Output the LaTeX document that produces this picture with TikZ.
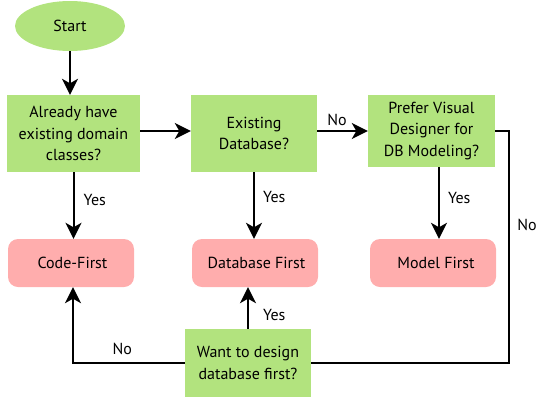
\documentclass[tikz,border=0pt]{standalone}
\usepackage{fontspec}
\setmainfont{PT Sans}
\usetikzlibrary{arrows.meta,shapes.geometric}
\definecolor{askgreen}{RGB}{178,227,126}
\definecolor{endpink}{RGB}{255,173,173}
\begin{document}
\begin{tikzpicture}[x=1pt,y=-1pt,font=\fontsize{16}{21.5}\selectfont,
  ask/.style={fill=askgreen,align=center,inner sep=0pt},
  result/.style={fill=endpink,rounded corners=10pt,minimum width=126pt,minimum height=48pt,inner sep=0pt},
  flow/.style={line width=2pt,-{Stealth[length=16pt,width=16pt,inset=4.5pt]}},
  route/.style={line width=1.8pt},
  lbl/.style={inner sep=0pt}]
\useasboundingbox (0,0) rectangle (550,400);
\node[ellipse,fill=askgreen,minimum width=110pt,minimum height=50pt,inner sep=0pt](start) at (70,26){Start};
\node[ask,minimum width=133pt,minimum height=77pt](havecls) at (73.5,133.5){Already have\\existing domain\\classes?};
\node[ask,minimum width=126pt,minimum height=77pt](existdb) at (254,133.5){Existing\\Database?};
\node[ask,minimum width=127pt,minimum height=72pt](visual) at (431.5,131){Prefer Visual\\Designer for\\DB Modeling?};
\node[ask,minimum width=126pt,minimum height=68pt](wantdb) at (248,363){Want to design\\database first?};
%
\node[result](codefirst) at (71,263){\hspace*{3pt}Code-First};
\node[result](dbfirst) at (255,263){\hspace*{3pt}Database First};
\node[result](modelfirst) at (433,263){\hspace*{6pt}Model First};
\coordinate (turn) at (509,225);
%
\draw[flow](start.south)--(start.south |- havecls.north);
\draw[flow]([yshift=2.5pt]havecls.east)--([yshift=2.5pt]havecls.east -| existdb.west);
\draw[flow](existdb.east |- visual.west)--(visual.west) node[lbl,pos=0.39,yshift=11pt]{No};
\draw[flow](havecls.south)--(havecls.south |- codefirst.north) node[lbl,pos=0.42,anchor=west,xshift=9pt]{Yes};
\draw[flow](existdb.south)--(existdb.south |- dbfirst.north) node[lbl,pos=0.37,anchor=west,xshift=8pt]{Yes};
\draw[flow]([xshift=7.5pt]visual.south)--([xshift=7.5pt]visual.south |- modelfirst.north) node[lbl,pos=0.43,anchor=west,xshift=8pt]{Yes};
\draw[flow](wantdb.north)--(wantdb.north |- dbfirst.south) node[lbl,pos=0.33,anchor=west,xshift=14pt]{Yes};
\draw[flow](wantdb.west)-|([xshift=2pt]codefirst.south) node[lbl,pos=0.28,yshift=14pt]{No};
\draw[route](visual.east)-|(turn) node[lbl,xshift=18pt]{No} |-(wantdb.east);
\end{tikzpicture}
\end{document}
